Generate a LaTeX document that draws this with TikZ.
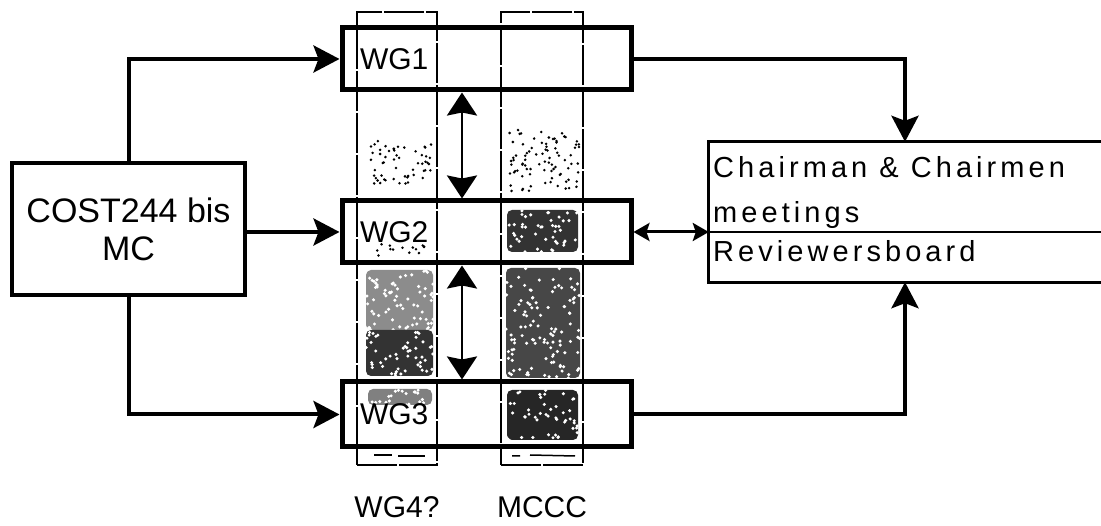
\documentclass[tikz,border=0pt]{standalone}
\usepackage{fontspec}
\setmainfont{Liberation Sans}
\newfontfamily\boardfont[LetterSpace=14]{Liberation Sans}
\usetikzlibrary{arrows.meta, positioning, calc}
\newcommand{\Blotch}[6]{% dark patch with light holes
    \fill[black!#6, rounded corners=5pt] (#1,#2) rectangle (#3,#4);
    \foreach \k in {1,...,#5} {
        \fill[white] ({#1+rnd*(#3-#1)},{#2+rnd*(#4-#2)}) circle (1.7pt);
    }
}
\newcommand{\Speckle}[5]{% loose dots
    \foreach \k in {1,...,#5} {
        \fill[black] ({#1+rnd*(#3-#1)},{#2+rnd*(#4-#2)}) circle (1.4pt);
    }
}
\tikzset{
    mcbox/.style={draw, line width=4pt, minimum width=233pt, minimum height=132pt,
        align=center, font=\fontsize{34}{38}\selectfont},
    wgbox/.style={draw, line width=5pt, minimum width=289pt, minimum height=62pt,
        text width=253pt, align=left, inner xsep=18pt, font=\fontsize{30}{34}\selectfont},
    column/.style={draw, line width=1.6pt, dash pattern=on 40pt off 2pt,
        minimum height=453pt, inner sep=0pt},
    conn/.style={line width=4pt, -{Stealth[length=26pt,width=27pt,inset=5pt]}},
    link/.style={line width=2.6pt,
        {Stealth[length=23pt,width=30pt,inset=3pt]}-{Stealth[length=23pt,width=30pt,inset=3pt]}},
    minilink/.style={line width=3pt,
        {Stealth[length=16pt,width=18pt,inset=3pt]}-{Stealth[length=16pt,width=18pt,inset=3pt]}},
    collabel/.style={font=\fontsize{30}{34}\selectfont, inner sep=0pt, anchor=base},
    boardtext/.style={font=\boardfont\fontsize{29}{32}\selectfont, inner sep=0pt, anchor=base west},
}
\begin{document}
\begin{tikzpicture}[x=1pt, y=-1pt]
    \useasboundingbox (0,0) rectangle (1101,526);
    \pgfmathsetseed{42}

    % shading in the two columns
    \Speckle{370}{140}{432}{185}{55}
    \Speckle{508}{130}{580}{192}{85}
    \Speckle{370}{244}{430}{256}{14}
    \Blotch{507}{210}{578}{252}{45}{80}
    \Blotch{366}{270}{433}{330}{70}{45}
    \Blotch{366}{330}{433}{376}{50}{80}
    \Blotch{506}{268}{580}{378}{110}{72}
    \Blotch{368}{389}{432}{405}{20}{50}
    \Blotch{507}{390}{578}{440}{45}{85}
    \draw[line width=1.5pt] (374,455) -- (392,455) (398,456) -- (425,456);
    \draw[line width=1.5pt] (512,456) -- (520,456) (530,455) -- (575,456);

    % columns
    \node[column, minimum width=80pt] (col4) at (397,238.5) {};
    \node[column, minimum width=82pt] (colm) at (542,238.5) {};
    \node[collabel] (lab4) at ([yshift=-52pt]col4.south) {WG4?};
    \node[collabel] (labm) at ([yshift=-52pt]colm.south) {MCCC};

    % boxes
    \node[mcbox] (mc) at (128.5,229) {COST244 bis\\MC};
    \node[wgbox] (wg1) at (486.5,59) {WG1};
    \node[wgbox] (wg2) at (486.5,232) {WG2};
    \node[wgbox, minimum height=65pt] (wg3) at (486.5,414.5) {WG3};

    % right hand board, open to the right
    \node[minimum width=392pt, minimum height=140pt, inner sep=0pt] (board) at (905,212) {};
    \coordinate (div) at (709,232);
    \draw[line width=3pt] (board.north east) -- (board.north west)
        -- (board.south west) -- (board.south east);
    \draw[line width=2.5pt] (div) -- (div -| board.east);
    \node[boardtext] (chair) at (713,178) {Chairman \& Chairmen};
    \node[boardtext] (meet) at (713,223) {meetings};
    \node[boardtext] (rev) at (713,262) {Reviewersboard};

    % connectors
    \coordinate (axis) at (462,0);
    \draw[conn] (mc.north) |- (wg1.west);
    \draw[conn] (mc.east |- wg2.west) -- (wg2.west);
    \draw[conn] (mc.south) |- (wg3.west);
    \draw[conn] (wg1.east) -| (board.north);
    \draw[conn] (wg3.east) -| (board.south);
    \draw[link] (wg1.south -| axis) -- (wg2.north -| axis);
    \draw[link] (wg2.south -| axis) -- (wg3.north -| axis);
    \draw[minilink] (wg2.east) -- (wg2.east -| board.west);
\end{tikzpicture}
\end{document}
